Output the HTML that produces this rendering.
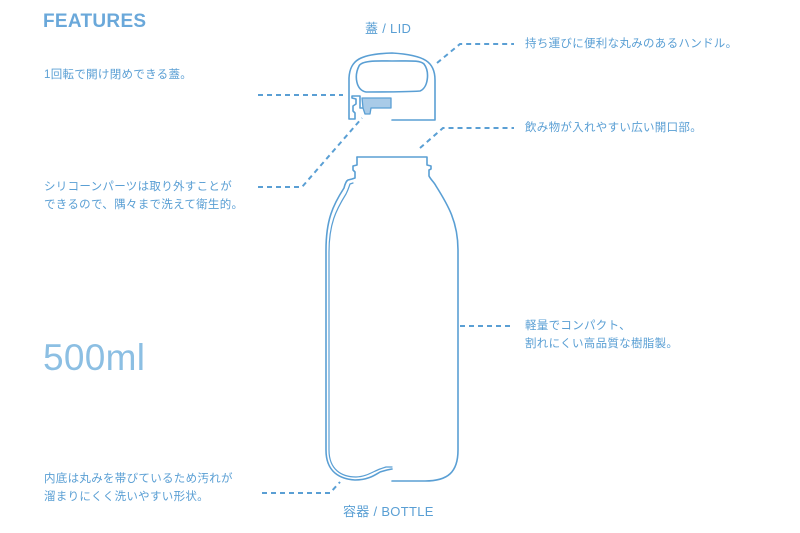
<!DOCTYPE html>
<html><head><meta charset="utf-8"><style>
html,body{margin:0;padding:0;background:#fff;}
body{width:800px;height:533px;overflow:hidden;position:relative;font-family:"Liberation Sans","Noto Sans CJK JP",sans-serif;color:#5a9fd4;}
.t{position:absolute;font-size:11.5px;line-height:18px;white-space:nowrap;letter-spacing:0.3px;}
</style></head><body>
<svg width="800" height="533" style="position:absolute;left:0;top:0" fill="none">
<g stroke="#5a9fd4" stroke-width="1.6" stroke-linecap="round" stroke-linejoin="round">
<path d="M392,120 L435,120 L435,80 C435,62 425,55 392,53 C360,54 350,60 349,78 L349,119 L355,119 L355,113 L353,111 L353,106 L356,104 L356,99 L352,98 L352,96 L360,96 L360,108 L363,108"/>
<path d="M359,66 C362,60 380,61 392,61 C410,61 420,60 424,64 C430,72 428,88 420,91 C405,92 380,92 366,92 C356,90 354,76 359,66 Z"/>
<path d="M362,98 L391,98 L391,108 L371,108 L370,114 L365,114 L363,108 Z" fill="#a9cbe8" stroke-width="1.3"/>
<path d="M357,157 L427,157 L427,165 L431,166 L431,169 L429,170 L429,176 C431,180 434,182 436,186 C448,205 458,222 458,250 L458,450 C458,472 448,481 425,481 L392,481"/>
<path d="M357,157 L357,165 L353,166 L353,170 L355,172 L355,178 L352,179 L348,180 C346,181 345,184 344,188 C333,205 326,220 326,250 L326,450 C326,472 340,479 355,480 C368,480 375,475 380,472 L387,470 L392,469"/>
<path d="M353,183 L350,184 C348,190 347,192 346,194 C336,210 329,224 329,252 L329,450 C329,470 342,477 356,477 C366,477 374,471 380,469 L386,467 L392,467" stroke-width="1.2"/>
</g>
<g stroke="#5a9fd4" stroke-width="2" stroke-dasharray="5,4">
<path d="M258,95 L343,95"/>
<path d="M258,187 L302,187 L362,118"/>
<path d="M437,63 L460,44 L514,44"/>
<path d="M420,148 L443,128 L514,128"/>
<path d="M460,326 L514,326"/>
<path d="M262,493 L330,493 L340,482"/>
</g>
</svg>
<div class="t" style="left:43px;top:9px;font-size:19px;line-height:26px;font-weight:bold;color:#6aa8da;">FEATURES</div>
<div class="t" style="left:365px;top:20px;font-size:13px;">蓋 / LID</div>
<div class="t" style="left:44px;top:66px;">1回転で開け閉めできる蓋。</div>
<div class="t" style="left:44px;top:178px;">シリコーンパーツは取り外すことが<br>できるので、隅々まで洗えて衛生的。</div>
<div class="t" style="left:525px;top:35px;">持ち運びに便利な丸みのあるハンドル。</div>
<div class="t" style="left:525px;top:119px;">飲み物が入れやすい広い開口部。</div>
<div class="t" style="left:525px;top:317px;">軽量でコンパクト、<br>割れにくい高品質な樹脂製。</div>
<div class="t" style="left:43px;top:336px;font-size:37px;line-height:44px;color:#8cbfe3;">500ml</div>
<div class="t" style="left:44px;top:470px;">内底は丸みを帯びているため汚れが<br>溜まりにくく洗いやすい形状。</div>
<div class="t" style="left:343px;top:503px;font-size:13px;">容器 / BOTTLE</div>
</body></html>
